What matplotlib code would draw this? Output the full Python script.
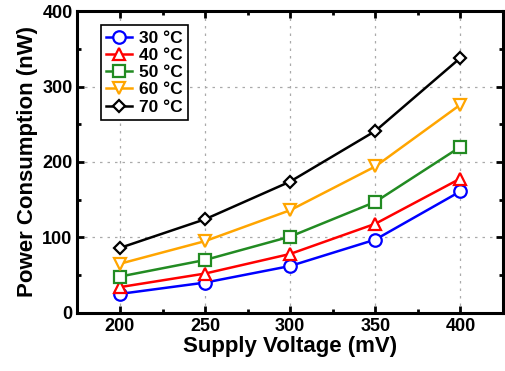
import numpy as np
import matplotlib.pyplot as plt
from matplotlib.ticker import MultipleLocator

plt.rcParams['font.family'] = ['Liberation Sans', 'DejaVu Sans']
plt.rcParams['font.weight'] = 'bold'

voltage = [200, 250, 300, 350, 400]
p30 = [25, 40, 62, 97, 161]
p40 = [34, 52, 78, 118, 178]
p50 = [48, 70, 101, 147, 220]
p60 = [65, 95, 136, 194, 276]
p70 = [86, 124, 174, 241, 338]
labels = ['30 °C', '40 °C', '50 °C', '60 °C', '70 °C']

series = [p30, p40, p50, p60, p70]
colors = ['#0000ff', '#ff0000', '#228b22', '#ffa500', '#000000']
markers = ['o', '^', 's', 'v', 'D']
msizes = [9, 9, 9, 9, 6.5]

fig = plt.figure(figsize=(5.06, 3.71), dpi=100)
ax = fig.add_axes([0.153, 0.157, 0.841, 0.813])

for y, c, m, ms, lab in zip(series, colors, markers, msizes, labels):
    ax.plot(voltage, y, color=c, marker=m, markersize=ms, lw=1.8,
            markerfacecolor='white', markeredgecolor=c, markeredgewidth=1.6,
            label=lab)

ax.set_xlim(175, 425)
ax.set_ylim(0, 400)
ax.xaxis.set_major_locator(MultipleLocator(50))
ax.xaxis.set_minor_locator(MultipleLocator(25))
ax.yaxis.set_major_locator(MultipleLocator(100))
ax.yaxis.set_minor_locator(MultipleLocator(50))
ax.tick_params(which='both', direction='in', top=True, right=True,
               labelsize=13, width=2)
ax.tick_params(which='major', length=5)
ax.tick_params(which='minor', length=3)
for lbl in ax.get_xticklabels() + ax.get_yticklabels():
    lbl.set_fontweight('bold')
for s in ax.spines.values():
    s.set_linewidth(2.2)

ax.grid(True, which='major', linestyle=(0, (2, 4)), color='#aaaaaa', lw=0.9)

ax.set_xlabel('Supply Voltage (mV)', fontsize=16, fontweight='bold', labelpad=1)
ax.set_ylabel('Power Consumption (nW)', fontsize=16, fontweight='bold', labelpad=3)

leg = ax.legend(loc='upper left', bbox_to_anchor=(0.055, 0.953),
                borderaxespad=0, fontsize=12.5, frameon=True, fancybox=False,
                edgecolor='black', framealpha=1, handlelength=1.5,
                borderpad=0.3, labelspacing=0.12, handletextpad=0.4)
leg.get_frame().set_linewidth(1.2)

fig.savefig('out.png', dpi=100)
